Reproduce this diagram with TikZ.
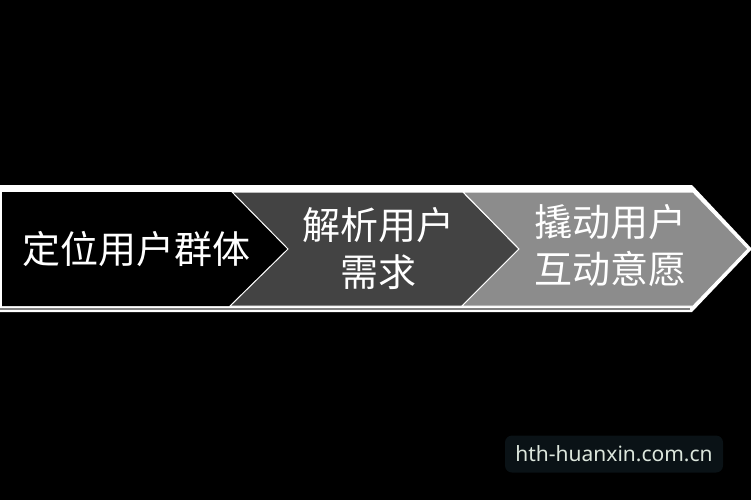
\documentclass[tikz,border=0pt]{standalone}
\usepackage{fontspec}
\newfontfamily\cjk{Noto Sans CJK SC}
\newfontfamily\wmfont{Noto Sans}
\definecolor{chevA}{HTML}{000000}
\definecolor{chevB}{HTML}{434343}
\definecolor{chevC}{HTML}{8C8C8C}
\definecolor{wmbg}{HTML}{0A1216}
\definecolor{wmtext}{HTML}{DCE6DC}
\tikzset{
  chevtext/.style={text=white, font=\cjk\fontsize{38}{47}\selectfont, align=center, inner sep=0pt},
  chevshape/.style={draw=white, line width=1pt, line join=miter},
}
\begin{document}
\begin{tikzpicture}[x=1pt,y=-1pt]
\fill[black] (0,0) rectangle (751,500);
\useasboundingbox (0,0) rectangle (751,500);
% outer white frame
\fill[white] (0,185) -- (692,185) -- (752,249) -- (692,312) -- (0,312) -- cycle;
\draw[gray, line width=1.5pt] (0,309) -- (690,309);
% chevrons
\fill[chevA] (2,192) -- (232,192) -- (288,249) -- (230,306) -- (2,306) -- cycle;
\draw[chevshape, fill=chevB] (232,192) -- (463,192) -- (519,249) -- (462,306) -- (230,306) -- (288,249) -- cycle;
\draw[chevshape, fill=chevC] (463,192) -- (693,192) -- (748,249) -- (693,306) -- (462,306) -- (519,249) -- cycle;
% texts
\node[chevtext] (t1) at (136,249) {定位用户群体};
\node[chevtext] (t2) at (378,248) {解析用户\\需求};
\node[chevtext] (t3) at (610,246) {撬动用户\\互动意愿};
% watermark
\node[fill=wmbg, rounded corners=7pt, minimum width=218pt, minimum height=37pt, inner sep=0pt] (wmbox) at (614,454) {};
\node[text=wmtext, font=\wmfont\fontsize{21}{24}\selectfont, inner sep=0pt] (wm) at (wmbox.center) {hth-huanxin.com.cn};
\end{tikzpicture}
\end{document}
